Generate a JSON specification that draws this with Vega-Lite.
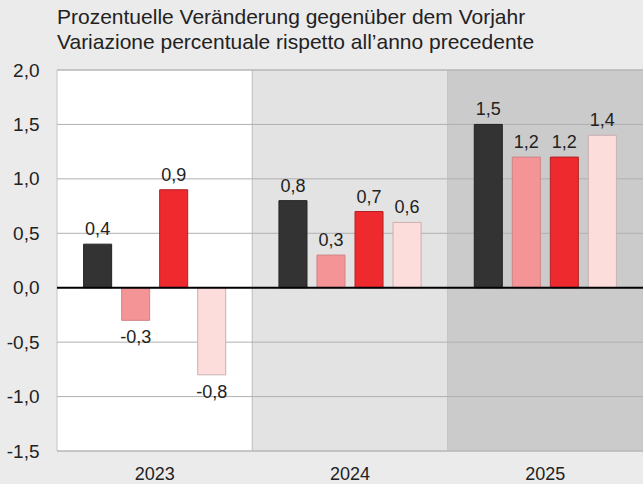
{
  "$schema": "https://vega.github.io/schema/vega-lite/v6.json",
  "width": 586,
  "height": 381,
  "autosize": "none",
  "padding": {"left": 57, "top": 70, "right": 0, "bottom": 33},
  "background": "#ebebeb",
  "config": {
    "locale": {"number": {"decimal": ",", "thousands": ".", "grouping": [3], "currency": ["", " €"], "minus": "-"}},
    "view": {"stroke": null},
    "font": "Liberation Sans"
  },
  "title": {
    "text": ["Prozentuelle Veränderung gegenüber dem Vorjahr", "Variazione percentuale rispetto all’anno precedente"],
    "anchor": "start",
    "frame": "group",
    "font": "Liberation Sans",
    "fontSize": 21,
    "fontWeight": "normal",
    "color": "#222222",
    "lineHeight": 25,
    "offset": 8
  },
  "datasets": {
    "values": [
      {"year": "2023", "series": "S1", "value": 0.4},
      {"year": "2023", "series": "S2", "value": -0.3},
      {"year": "2023", "series": "S3", "value": 0.9},
      {"year": "2023", "series": "S4", "value": -0.8},
      {"year": "2024", "series": "S1", "value": 0.8},
      {"year": "2024", "series": "S2", "value": 0.3},
      {"year": "2024", "series": "S3", "value": 0.7},
      {"year": "2024", "series": "S4", "value": 0.6},
      {"year": "2025", "series": "S1", "value": 1.5},
      {"year": "2025", "series": "S2", "value": 1.2},
      {"year": "2025", "series": "S3", "value": 1.2},
      {"year": "2025", "series": "S4", "value": 1.4}
    ],
    "sections": [
      {"year": "2023"},
      {"year": "2024"},
      {"year": "2025"}
    ],
    "grid": [
      {"v": -1.5}, {"v": -1.0}, {"v": -0.5}, {"v": 0.5}, {"v": 1.0}, {"v": 1.5}, {"v": 2.0}
    ]
  },
  "layer": [
    {
      "data": {"name": "sections"},
      "mark": {"type": "rect", "stroke": "#c4c4c4", "strokeWidth": 1},
      "encoding": {
        "x": {
          "field": "year", "type": "nominal",
          "scale": {"paddingInner": 0, "paddingOuter": 0},
          "axis": {"title": null, "labelAngle": 0, "ticks": false, "domain": false, "labelFontSize": 18, "labelPadding": 14, "labelColor": "#222222", "labelFont": "Liberation Sans"}
        },
        "color": {
          "field": "year", "type": "nominal",
          "scale": {"domain": ["2023", "2024", "2025"], "range": ["#ffffff", "#e3e3e3", "#cbcbcb"]},
          "legend": null
        }
      }
    },
    {
      "data": {"name": "grid"},
      "mark": {"type": "rule", "color": "#b0b0b0", "strokeWidth": 1},
      "encoding": {
        "y": {
          "field": "v", "type": "quantitative", "title": null,
          "scale": {"domain": [-1.5, 2.0], "nice": false, "zero": false},
          "axis": {"title": null, "values": [-1.5, -1.0, -0.5, 0, 0.5, 1.0, 1.5, 2.0], "format": ".1f", "grid": false, "ticks": false, "domain": false, "labelFontSize": 19, "labelPadding": 18, "labelColor": "#222222", "labelFont": "Liberation Sans"}
        }
      }
    },
    {
      "data": {"name": "values"},
      "mark": {"type": "bar", "strokeWidth": 1},
      "encoding": {
        "x": {"field": "year", "type": "nominal"},
        "xOffset": {"field": "series", "type": "nominal", "scale": {"paddingInner": 0.263, "paddingOuter": 0.7}},
        "y": {"field": "value", "type": "quantitative", "title": null},
        "color": {
          "field": "series", "type": "nominal",
          "scale": {"domain": ["S1", "S2", "S3", "S4"], "range": ["#333333", "#f49496", "#ee2a2e", "#fddcdc"]},
          "legend": null
        },
        "stroke": {
          "field": "series", "type": "nominal",
          "scale": {"domain": ["S1", "S2", "S3", "S4"], "range": ["#222222", "#cf8486", "#b02226", "#c9b0b0"]},
          "legend": null
        }
      }
    },
    {
      "data": {"values": [{}]},
      "mark": {"type": "rule", "color": "#000000", "strokeWidth": 2},
      "encoding": {"y": {"datum": 0}}
    },
    {
      "data": {"name": "values"},
      "transform": [{"filter": "datum.value >= 0"}],
      "mark": {"type": "text", "baseline": "bottom", "dy": -5, "fontSize": 18, "color": "#222222", "font": "Liberation Sans"},
      "encoding": {
        "x": {"field": "year", "type": "nominal"},
        "xOffset": {"field": "series", "type": "nominal"},
        "y": {"field": "value", "type": "quantitative", "title": null},
        "text": {"field": "value", "type": "quantitative", "format": ".1f"}
      }
    },
    {
      "data": {"name": "values"},
      "transform": [{"filter": "datum.value < 0"}],
      "mark": {"type": "text", "baseline": "top", "dy": 9, "fontSize": 18, "color": "#222222", "font": "Liberation Sans"},
      "encoding": {
        "x": {"field": "year", "type": "nominal"},
        "xOffset": {"field": "series", "type": "nominal"},
        "y": {"field": "value", "type": "quantitative", "title": null},
        "text": {"field": "value", "type": "quantitative", "format": ".1f"}
      }
    }
  ],
  "resolve": {"scale": {"color": "independent"}}
}
